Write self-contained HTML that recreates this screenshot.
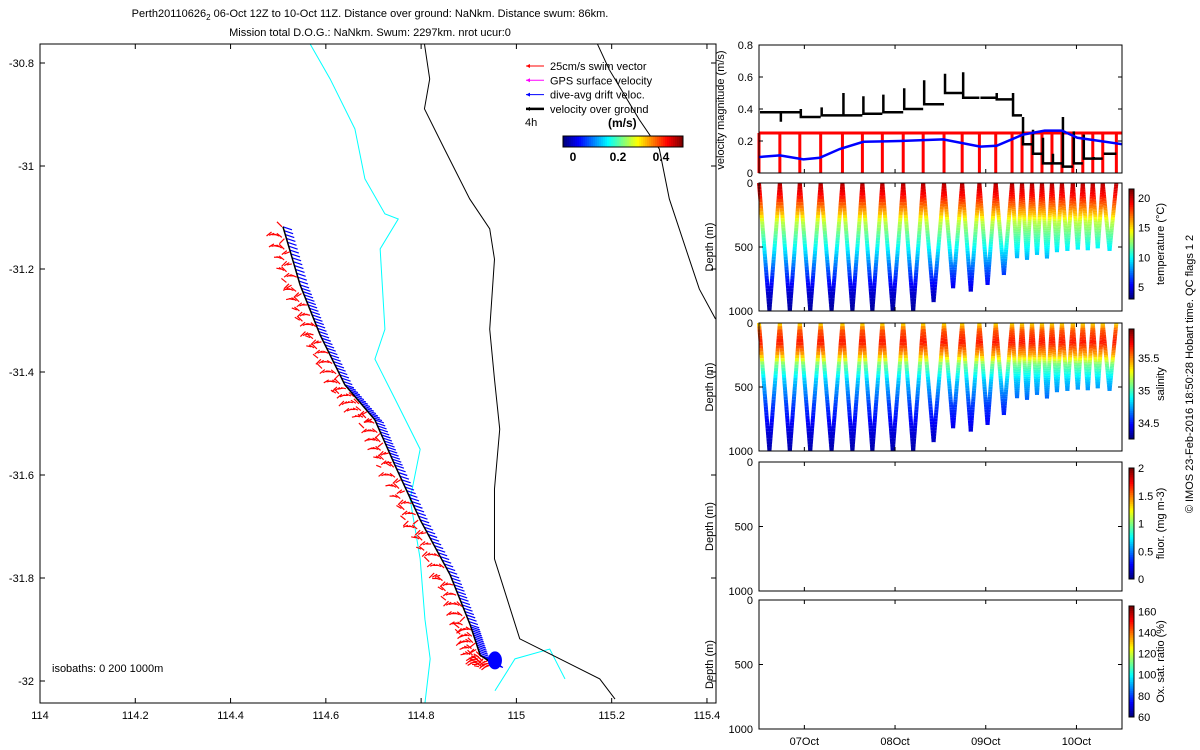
<!DOCTYPE html>
<html><head><meta charset="utf-8"><style>
body{margin:0;background:#fff;}
svg{display:block;font-family:"Liberation Sans",sans-serif;}
</style></head><body>
<svg id="s" width="1200" height="750" xmlns="http://www.w3.org/2000/svg">
<text x="370" y="17" font-size="11" text-anchor="middle">Perth20110626<tspan font-size="8" dy="3">2</tspan><tspan dy="-3"> 06-Oct 12Z to 10-Oct 11Z. Distance over ground: NaNkm. Distance swum: 86km.</tspan></text>
<text x="370" y="36" font-size="11" text-anchor="middle">Mission total D.O.G.: NaNkm. Swum: 2297km. nrot ucur:0</text>
<g id="map"></g>
<g id="right"></g>
<text transform="translate(1193,374) rotate(-90)" font-size="11" text-anchor="middle">© IMOS 23-Feb-2016 18:50:28 Hobart time. QC flags 1  2</text>
</svg>
<script>
// ---- map data ----
const trackLon=[114.510,114.546,114.588,114.640,114.703,114.745,114.798,114.861,114.903,114.924,114.955];
const trackLat=[-31.118,-31.231,-31.328,-31.425,-31.493,-31.581,-31.687,-31.794,-31.891,-31.950,-31.969];
const lonTicks=[114,114.2,114.4,114.6,114.8,115,115.2,115.4];
const latTicks=[-30.8,-31,-31.2,-31.4,-31.6,-31.8,-32];
const coastLon=[114.807,114.818,114.807,114.849,114.902,114.944,114.954,114.944,114.954,114.965,114.954,114.954,115.007,115.091,115.175,115.207];
const coastLat=[-30.763,-30.831,-30.889,-30.967,-31.064,-31.122,-31.181,-31.317,-31.414,-31.511,-31.627,-31.763,-31.918,-31.957,-31.996,-32.035];
const coast2Lon=[115.170,115.195,115.258,115.300,115.321,115.363,115.384,115.418];
const coast2Lat=[-30.763,-30.813,-30.910,-30.967,-31.064,-31.181,-31.239,-31.297];
const isoLon=[114.567,114.609,114.661,114.682,114.724,114.752,114.714,114.724,114.703,114.745,114.798,114.777,114.798,114.808,114.819,114.808];
const isoLat=[-30.763,-30.831,-30.928,-31.025,-31.093,-31.103,-31.161,-31.317,-31.375,-31.452,-31.550,-31.647,-31.763,-31.880,-31.957,-32.043];
const iso2Lon=[114.955,114.997,115.070,115.102];
const iso2Lat=[-32.019,-31.957,-31.938,-31.996];
// ---- time series data (days since 06-Oct 12Z) ----
const diveT=[0,0.23,0.45,0.68,0.92,1.14,1.36,1.59,1.81,2.04,2.24,2.43,2.61,2.79,2.90,3.01,3.12,3.23,3.34,3.46,3.57,3.68,3.79,3.94];
const diveDepth=[1000,1000,1000,1000,1000,1000,1000,1000,930,822,848,796,718,587,600,561,590,540,530,520,525,510,530];
const vogVal=[0.38,0.38,0.35,0.36,0.36,0.37,0.38,0.40,0.43,0.50,0.47,0.47,0.46,0.36,0.18,0.12,0.06,0.06,0.04,0.06,0.09,0.09,0.12];
const vogSpike=[0.38,0.32,0.40,0.41,0.50,0.48,0.49,0.53,0.58,0.62,0.63,0.47,0.50,0.50,0.35,0.27,0.22,0.12,0.35,0.26,0.24,0.10,0.12];
const driftT=[0,0.23,0.49,0.67,0.89,1.15,1.55,2.03,2.44,2.62,2.91,3.15,3.34,3.51,3.76,4.0];
const driftV=[0.10,0.11,0.085,0.095,0.15,0.195,0.20,0.21,0.165,0.17,0.24,0.265,0.265,0.22,0.20,0.18];
const swimV=0.25;
const dayTicks=[0.5,1.5,2.5,3.5];
const dayLabels=["07Oct","08Oct","09Oct","10Oct"];
const velTicks=[0,0.2,0.4,0.6,0.8];
const depthTicks=[0,500,1000];
const tempProfD=[0,100,250,300,500,700,850,1000];
const tempProfV=[20.5,19,15.5,13.5,10,6.5,4.5,3.5];
const salProfD=[0,60,150,250,320,450,650,850,1000];
const salProfV=[35.35,35.6,35.7,35.45,35.1,34.8,34.55,34.4,34.32];

const NS="http://www.w3.org/2000/svg";
function el(p,t,a){const e=document.createElementNS(NS,t);for(const k in a)e.setAttribute(k,a[k]);p.appendChild(e);return e;}
function jet(t){t=Math.max(0,Math.min(1,t));const r=Math.max(0,Math.min(1,1.5-Math.abs(4*t-3))),g=Math.max(0,Math.min(1,1.5-Math.abs(4*t-2))),b=Math.max(0,Math.min(1,1.5-Math.abs(4*t-1)));return `rgb(${r*255|0},${g*255|0},${b*255|0})`;}
function interp(xs,ys,x){if(x<=xs[0])return ys[0];for(let i=1;i<xs.length;i++)if(x<=xs[i])return ys[i-1]+(ys[i]-ys[i-1])*(x-xs[i-1])/(xs[i]-xs[i-1]);return ys[ys.length-1];}

// ---- MAP ----
const M=document.getElementById('map');
const L=40,R=716,T=44,B=703;
const mx=lon=>40+(lon-114)*476.4, my=lat=>63+(-30.8-lat)*515;
function poly(lons,lats,col,w,name){const e=el(M,'polyline',{points:lons.map((v,i)=>mx(v)+','+my(lats[i])).join(' '),fill:'none',stroke:col,'stroke-width':w});}
poly(isoLon,isoLat,'#00ffff',1,'isobath-200m');
poly(iso2Lon,iso2Lat,'#00ffff',1,'isobath-200m-south');
poly(coastLon,coastLat,'#000',1,'isobath-1000m');
poly(coast2Lon,coast2Lat,'#000',1,'coastline');
for(let i=0;i<trackLon.length-1;i++){
  const n=30;
  for(let k=0;k<n;k++){
    const f=k/n,lo=trackLon[i]+(trackLon[i+1]-trackLon[i])*f,la=trackLat[i]+(trackLat[i+1]-trackLat[i])*f;
    const x=mx(lo),y=my(la);
    const off=((k*37+i*11)%13);
    const dy=((k*53+i*7)%11)-5;
    const r=el(M,'line',{x1:x-1-off,y1:y+off*0.3,x2:x-6-off,y2:y+off*0.3+dy,stroke:'#f00','stroke-width':1.2});
    
    if(k%2==0){const b=el(M,'line',{x1:x,y1:y,x2:x+9,y2:y+3,stroke:'#00f','stroke-width':1.2});
    }
  }
}
poly(trackLon,trackLat,'#000',1.5,'ground-track');
el(M,'ellipse',{cx:mx(114.955),cy:my(-31.96),rx:7,ry:9,fill:'#00f'});
el(M,'rect',{x:L,y:T,width:R-L,height:B-T,fill:'none',stroke:'#000','stroke-width':1});
lonTicks.forEach(v=>{const x=mx(v);el(M,'line',{x1:x,y1:B,x2:x,y2:B-5,stroke:'#000'});el(M,'line',{x1:x,y1:T,x2:x,y2:T+5,stroke:'#000'});const t=el(M,'text',{x:x,y:B+16,'font-size':11,'text-anchor':'middle'});t.textContent=v;});
latTicks.forEach(v=>{const y=my(v);el(M,'line',{x1:L,y1:y,x2:L+5,y2:y,stroke:'#000'});el(M,'line',{x1:R,y1:y,x2:R-5,y2:y,stroke:'#000'});const t=el(M,'text',{x:L-6,y:y+4,'font-size':11,'text-anchor':'end'});t.textContent=v;});
{const t=el(M,'text',{x:52,y:672,'font-size':11});t.textContent='isobaths: 0   200  1000m';}
const leg=[['#f00','25cm/s swim vector'],['#f0f','GPS surface velocity'],['#00f','dive-avg drift veloc.'],['#000','velocity over ground']];
leg.forEach((l,i)=>{const y=66+i*14.3;el(M,'line',{x1:526,y1:y,x2:544,y2:y,stroke:l[0],'stroke-width':i==3?2.5:1});el(M,'path',{d:`M526 ${y} l4 -2 v4 z`,fill:l[0]});const t=el(M,'text',{x:550,y:y+4,'font-size':11});t.textContent=l[1];});
{const t=el(M,'text',{x:525,y:126,'font-size':11});t.textContent='4h';
const u=el(M,'text',{x:608,y:127,'font-size':12,'font-weight':'bold'});u.textContent='(m/s)';}
for(let i=0;i<60;i++)el(M,'rect',{x:563+i*2,y:136,width:2.2,height:11,fill:jet(i/59)});
el(M,'rect',{x:563,y:136,width:120,height:11,fill:'none',stroke:'#000'});
[[0,573],[0.2,618],[0.4,661]].forEach(p=>{const t=el(M,'text',{x:p[1],y:161,'font-size':12,'font-weight':'bold','text-anchor':'middle'});t.textContent=p[0];});

// ---- RIGHT PANELS ----
const G=document.getElementById('right');
const X0=759,X1=1122,vx=d=>X0+d*90.7;
const panels=[[45,173],[183,311],[323,451],[462,591],[600,729]];
function frame(p,name){const [t,b]=panels[p];const r=el(G,'rect',{x:X0,y:t,width:X1-X0,height:b-t,fill:'none',stroke:'#000'});
 dayTicks.forEach(d=>{const x=vx(d);el(G,'line',{x1:x,y1:b,x2:x,y2:b-4,stroke:'#000'});el(G,'line',{x1:x,y1:t,x2:x,y2:t+4,stroke:'#000'});});}
function vtext(x,y,s,name){const t=el(G,'text',{transform:`translate(${x},${y}) rotate(-90)`,'font-size':11,'text-anchor':'middle'});t.textContent=s;}
const vy=v=>173-v*160;
{let d='';diveT.slice(0,-1).forEach((t0,i)=>{const x0=vx(t0),x1=vx(diveT[i+1]);d+=`M${x0+1} ${vy(vogSpike[i])} V${vy(vogVal[i])} H${x1}`;});
 const r=[];diveT.forEach((t,i)=>{const x=vx(t);r.push(`M${x} ${vy(swimV)} V${vy(0)}`);});
 const rp=el(G,'path',{d:`M${X0} ${vy(swimV)} H${X1} `+r.join(' '),fill:'none',stroke:'#f00','stroke-width':3});
 const bp=el(G,'path',{d,fill:'none',stroke:'#000','stroke-width':2.5});
 const dp=el(G,'polyline',{points:driftT.map((t,i)=>vx(t)+','+vy(driftV[i])).join(' '),fill:'none',stroke:'#00f','stroke-width':2.5});}
frame(0,'velocity-panel');
velTicks.forEach(v=>{const y=vy(v);el(G,'line',{x1:X0,y1:y,x2:X0+4,y2:y,stroke:'#000'});el(G,'line',{x1:X1,y1:y,x2:X1-4,y2:y,stroke:'#000'});const t=el(G,'text',{x:X0-6,y:y+4,'font-size':11,'text-anchor':'end'});t.textContent=v;});
vtext(724,110,'velocity magnitude (m/s)','velocity-axis-title');
function depthPanel(p,profD,profV,vmin,vmax,name){
 const [t,b]=panels[p];const dy=d=>t+d/1000*(b-t);
 if(profD){diveT.slice(0,-1).forEach((t0,i)=>{const t1=diveT[i+1],D=diveDepth[i];
  const tm=(t0+t1)/2; const n=40;
  for(let k=0;k<n;k++){const f=k/n,f2=(k+1)/n;
   [[t0,tm,f,f2,0],[tm,t1,f,f2,1]].forEach(s=>{const ta=s[0]+(s[1]-s[0])*s[2],tb=s[0]+(s[1]-s[0])*s[3];const da=s[4]?D*(1-s[2]):D*s[2],db=s[4]?D*(1-s[3]):D*s[3];
    const c=jet((interp(profD,profV,(da+db)/2)-vmin)/(vmax-vmin));
    el(G,'line',{x1:vx(ta),y1:dy(da),x2:vx(tb),y2:dy(db),stroke:c,'stroke-width':4});});}});}
 frame(p,name);
 depthTicks.forEach(d=>{const y=dy(d);el(G,'line',{x1:X0,y1:y,x2:X0+4,y2:y,stroke:'#000'});el(G,'line',{x1:X1,y1:y,x2:X1-4,y2:y,stroke:'#000'});const tx=el(G,'text',{x:X0-6,y:y+4,'font-size':11,'text-anchor':'end'});tx.textContent=d;});
 vtext(713,(t+b)/2,'Depth (m)','depth-axis-title');
}
function cbar(p,ticks,vmin,vmax,title){const [t,b]=panels[p];const ct=t+6,cb=b-12;
 for(let i=0;i<50;i++)el(G,'rect',{x:1129,y:cb-(i+1)*(cb-ct)/50,width:5,height:(cb-ct)/50+0.5,fill:jet(i/49)});
 const r=el(G,'rect',{x:1129,y:ct,width:5,height:cb-ct,fill:'none',stroke:'#000'});
 ticks.forEach(v=>{const y=cb-(v-vmin)/(vmax-vmin)*(cb-ct);const tx=el(G,'text',{x:1138,y:y+4,'font-size':11});tx.textContent=v;});
 vtext(1164,(ct+cb)/2,title,'colorbar-title');}
depthPanel(1,tempProfD,tempProfV,3,21.5,'temperature-panel');cbar(1,[5,10,15,20],3,21.5,'temperature (°C)');
depthPanel(2,salProfD,salProfV,34.25,35.95,'salinity-panel');cbar(2,[34.5,35,35.5],34.25,35.95,'salinity');
depthPanel(3,null,null,0,2,'fluorescence-panel');cbar(3,[0,0.5,1,1.5,2],0,2,'fluor. (mg m-3)');
depthPanel(4,null,null,60,165,'oxygen-panel');cbar(4,[60,80,100,120,140,160],60,165,'Ox. sat. ratio (%)');
dayTicks.forEach((d,i)=>{const t=el(G,'text',{x:vx(d),y:745,'font-size':11,'text-anchor':'middle'});t.textContent=dayLabels[i];});
</script>
</body></html>
